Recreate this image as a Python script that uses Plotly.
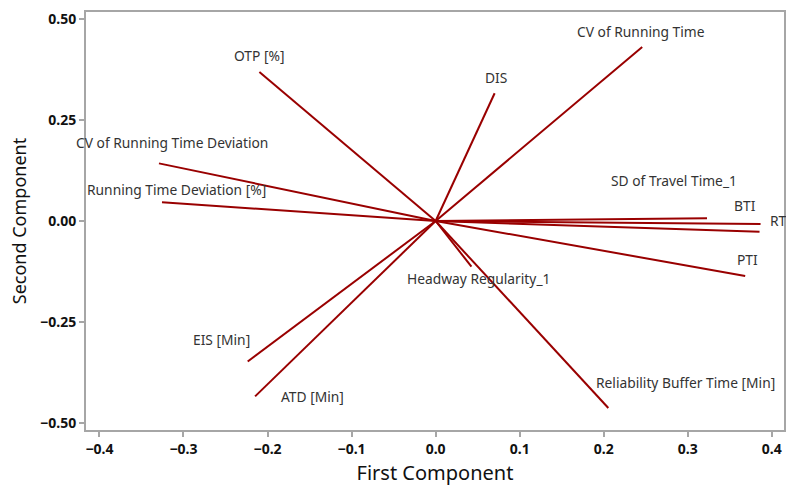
import plotly.graph_objects as go

# Variable names and loading-vector endpoints (First Component, Second Component)
variables = [
    "CV of Running Time", "DIS", "OTP [%]", "CV of Running Time Deviation",
    "Running Time Deviation [%]", "EIS [Min]", "ATD [Min]",
    "Reliability Buffer Time [Min]", "Headway Regularity_1", "PTI",
    "SD of Travel Time_1", "BTI", "RT",
]
first_component = [0.2458, 0.0702, -0.2097, -0.3292, -0.3256, -0.2236, -0.2148,
                    0.2055, 0.0426, 0.3683, 0.3229, 0.3866, 0.3854]
second_component = [0.4304, 0.3160, 0.3686, 0.1425, 0.0462, -0.3474, -0.4338,
                    -0.4625, -0.1128, -0.1358, 0.0067, -0.0074, -0.0264]

# label offsets in pixels relative to each vector end (styling only)
label_dx = [-1, 1.5, 0, 13, 14.4, -26, 57.6, 77, 7, 2, -33.5, -15.4, 8.3]
label_dy = [16, 16, 16, 20.6, 13.3, 21.7, 0, 25, -12.3, 16.7, 37.6, 18.3, 11]
label_anchor = ["center"] * 12 + ["left"]

x_ticks = [-0.4, -0.3, -0.2, -0.1, 0.0, 0.1, 0.2, 0.3, 0.4]
y_ticks = [-0.50, -0.25, 0.00, 0.25, 0.50]

line_color = "#990000"
font_family = "Noto Sans, Open Sans, sans-serif"

fig = go.Figure()
for name, fx, fy in zip(variables, first_component, second_component):
    fig.add_trace(go.Scatter(
        x=[0, fx], y=[0, fy], mode="lines", name=name,
        line=dict(color=line_color, width=2), showlegend=False,
        hoverinfo="name",
    ))

for name, fx, fy, dx, dy, anc in zip(variables, first_component, second_component,
                                     label_dx, label_dy, label_anchor):
    fig.add_annotation(
        x=fx, y=fy, text=name, showarrow=False, xshift=dx, yshift=dy,
        xanchor=anc, yanchor="middle",
        font=dict(family=font_family, size=13.8, color="#333333"),
    )

axis_common = dict(
    showgrid=False, zeroline=False, showline=True, mirror=True,
    linecolor="#a6a6a6", linewidth=2, ticks="outside", ticklen=5,
    tickcolor="#a6a6a6", tickwidth=1.5,
    tickfont=dict(family=font_family, size=14, color="#111111", weight="bold"),
)

fig.update_layout(
    width=786, height=486,
    margin=dict(l=86, r=0, t=12, b=55),
    paper_bgcolor="white", plot_bgcolor="white",
    xaxis=dict(range=[-0.416, 0.4145], tickvals=x_ticks, tickformat=".1f",
               title=dict(text="First Component", standoff=14,
                          font=dict(family=font_family, size=20, color="#111111")),
               **axis_common),
    yaxis=dict(range=[-0.517, 0.517], tickvals=y_ticks, tickformat=".2f",
               title=dict(text="Second Component", standoff=9,
                          font=dict(family=font_family, size=18, color="#111111")),
               **axis_common),
)

fig.write_html("out.html")
